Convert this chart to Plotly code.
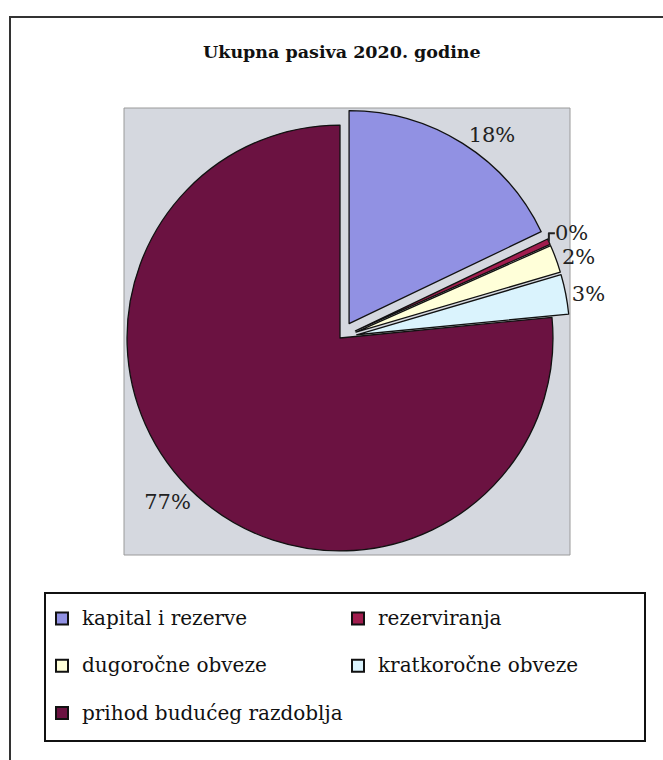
import plotly.graph_objects as go

# ---- data ----
labels = ["kapital i rezerve", "rezerviranja", "dugoročne obveze",
          "kratkoročne obveze", "prihod budućeg razdoblja"]
values = [17.9, 0.45, 2.1, 3.0, 76.55]
title_text = "Ukupna pasiva 2020. godine"

# ---- styles ----
colors = ["#9191E3", "#A11D4E", "#FFFFD9", "#DAF3FD", "#6B1241"]
pulls = [0.08, 0.08, 0.08, 0.08, 0.0]

W, H = 663, 760


def px(x):
    return x / W


def py(y):
    return 1 - y / H


# legend entries: larger visible text, plus an empty second line to mimic
# the tall row spacing of the reference legend
legend_labels = ["<span style='font-size:20px'>" + lab + "</span><br> " for lab in labels]

# pie domain (enlarged so that the un-pulled radius matches the reference)
cx, cy, half = 340, 338, 230

fig = go.Figure(
    go.Pie(
        labels=legend_labels,
        values=values,
        sort=False,
        direction="clockwise",
        rotation=0,
        pull=pulls,
        marker=dict(colors=colors, line=dict(color="#111111", width=1.3)),
        texttemplate="%{percent:.0%}",
        textposition="outside",
        textfont=dict(family="DejaVu Serif", size=21, color="#222222"),
        domain=dict(x=[px(cx - half), px(cx + half)],
                    y=[py(cy + half), py(cy - half)]),
        hoverinfo="percent",
    )
)

shapes = [
    # outer chart frame
    dict(type="rect", xref="paper", yref="paper",
         x0=px(10), x1=px(720), y0=py(820), y1=py(17),
         line=dict(color="#333333", width=2), fillcolor="white", layer="below"),
    # plot area
    dict(type="rect", xref="paper", yref="paper",
         x0=px(124), x1=px(570), y0=py(555), y1=py(108),
         line=dict(color="#9A9A9A", width=1), fillcolor="#D5D8DF", layer="below"),
    # legend box
    dict(type="rect", xref="paper", yref="paper",
         x0=px(45), x1=px(645), y0=py(741), y1=py(593),
         line=dict(color="#111111", width=2), fillcolor="rgba(0,0,0,0)", layer="above"),
]

fig.update_layout(
    width=W, height=H,
    margin=dict(l=0, r=0, t=0, b=0),
    paper_bgcolor="white",
    plot_bgcolor="white",
    shapes=shapes,
    annotations=[dict(text="<b>" + title_text + "</b>", x=px(342), y=py(52),
                      xref="paper", yref="paper", xanchor="center", yanchor="middle",
                      showarrow=False,
                      font=dict(family="DejaVu Serif", size=17.5, color="#111111"))],
    showlegend=True,
    legend=dict(orientation="h", x=px(42), xanchor="left", y=py(601), yanchor="top",
                entrywidth=251, entrywidthmode="pixels", valign="top",
                traceorder="normal", bgcolor="rgba(0,0,0,0)", borderwidth=0,
                itemsizing="constant",
                font=dict(family="DejaVu Serif", size=17, color="#111111")),
)

fig.write_html("out.html")
